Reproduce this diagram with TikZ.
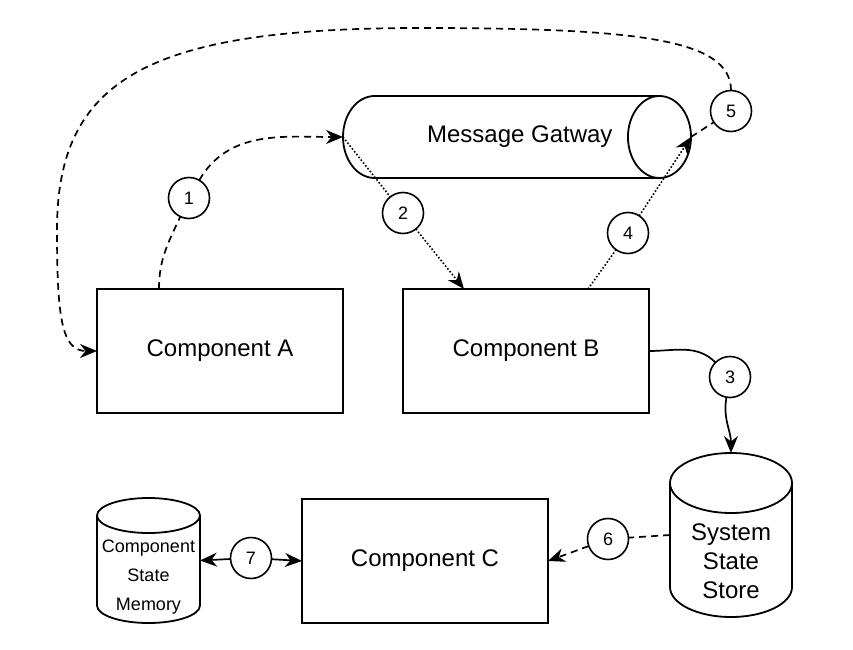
\documentclass[tikz,border=0pt]{standalone}
\usepackage{fontspec}
\setmainfont{Liberation Sans}
\usetikzlibrary{positioning}
\usetikzlibrary{shapes.geometric}
\usetikzlibrary{arrows.meta}

% upright drum outline round a named node: node, x radius, y radius
\newcommand{\drumline}[3]{%
  \draw[line width=1.8pt] ([yshift=-#3]#1.north west) -- ([yshift=#3]#1.south west)
    arc[start angle=180, end angle=360, x radius=#2, y radius=#3]
    -- ([yshift=-#3]#1.north east)
    arc[start angle=0, end angle=360, x radius=#2, y radius=#3];}

\begin{document}
\begin{tikzpicture}[x=1pt, y=1pt,
    compbox/.style={draw, line width=1.8pt, minimum width=246pt, minimum height=124pt, inner sep=0pt, outer sep=0pt, font=\fontsize{24}{29}\selectfont},
    pipe/.style={cylinder, draw, line width=1.8pt, inner sep=0pt, outer sep=0pt},
    drum/.style={inner sep=0pt, outer sep=0pt, align=center},
    stepnum/.style={circle, draw, line width=1.6pt, minimum size=41pt, inner sep=0pt, outer sep=0pt, font=\fontsize{18}{21}\selectfont},
    flowline/.style={line width=1.7pt},
    flowdash/.style={line width=1.7pt, dash pattern=on 7pt off 5pt},
    flowdot/.style={line width=1.6pt, dash pattern=on 1.6pt off 2pt},
    tip/.style={-{Stealth[length=17pt, width=14pt]}}]
    \useasboundingbox (0,0) rectangle (853,649);

    \node[compbox] (compA) at (220,298) {Component A};
    \node[compbox] [right=60pt of compA] (compB) {Component B};
    \node[compbox] (compC) at (425,88) {Component C};

    \node[pipe, aspect=2.9, minimum width=82pt, minimum height=348pt, font=\fontsize{24}{29}\selectfont, anchor=west] (gateway) at (343,512) {\hspace*{38pt}Message Gatway};
    \node[drum, minimum width=122pt, minimum height=164pt, font=\fontsize{24}{29}\selectfont] (sysstore) at (731,114) {\rule{0pt}{70pt}System\\State\\Store};
    \node[drum, minimum width=103pt, minimum height=125pt, font=\fontsize{18}{29}\selectfont] (memory) at (148.5,88.5) {\rule{0pt}{46pt}Component\\State\\Memory};
    \drumline{sysstore}{61pt}{30pt}
    \drumline{memory}{51.5pt}{17.5pt}

    \node[stepnum] (s1) at (189,451) {1};
    \node[stepnum] (s2) at (403,436) {2};
    \node[stepnum] (s3) at (730,272) {3};
    \node[stepnum] (s4) at (628,416) {4};
    \node[stepnum] (s5) at (731,538) {5};
    \node[stepnum] (s6) at (608,110) {6};
    \node[stepnum] (s7) at (251,91) {7};

    \coordinate (topbend) at (420,621);
    \coordinate (leftbend) at (57,419);

    % 1 and 2
    \draw[flowdash] ([xshift=-61pt]compA.north) to[out=90,in=-115] (s1);
    \draw[flowdash, tip] (s1) to[out=60,in=180] (gateway.west);
    \draw[flowdot] (gateway.west) -- (s2);
    \draw[flowdot, tip] (s2) -- ([xshift=-62pt]compB.north);

    % 3 and 4
    \draw[flowline] (compB.east) to[out=0,in=135] (s3);
    \draw[flowline, tip] (s3) to[out=-100,in=90] (sysstore.north);
    \draw[flowdot] ([xshift=62pt]compB.north) -- (s4);
    \draw[flowdot, tip] (s4) -- (gateway.east);

    % 5
    \draw[flowdash] (gateway.east) -- (s5);
    \draw[flowdash, tip] (s5.north) .. controls +(0,51) and +(220,0) .. (topbend)
        .. controls +(-272,0) and +(0,151) .. (leftbend)
        .. controls +(0,-89) and +(-35,0) .. (compA.west);

    % 6 and 7
    \draw[flowdash] (sysstore.west) -- (s6);
    \draw[flowdash, tip] (s6) -- (compC.east);
    \draw[flowline, tip] (s7) -- (memory.east);
    \draw[flowline, tip] (s7) -- (compC.west);
\end{tikzpicture}
\end{document}
